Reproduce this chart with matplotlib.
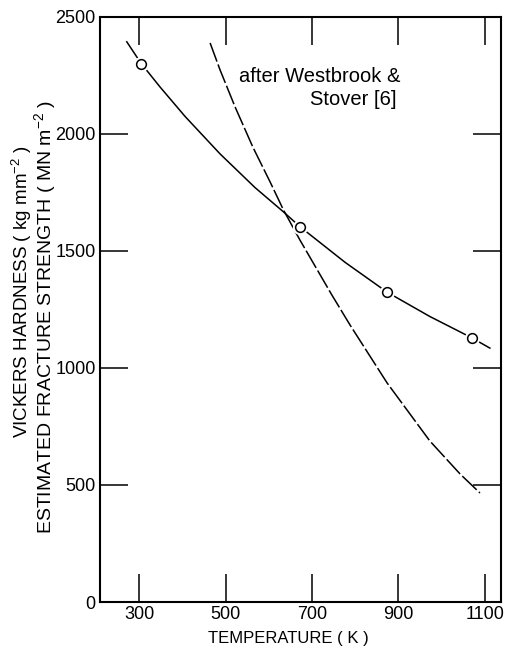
import matplotlib
matplotlib.use('Agg')
import matplotlib.pyplot as plt

plt.rcParams['font.family'] = ['Liberation Sans', 'DejaVu Sans']
plt.rcParams['mathtext.fontset'] = 'custom'
plt.rcParams['mathtext.rm'] = 'Liberation Sans'
plt.rcParams['mathtext.it'] = 'Liberation Sans'

# ---- data ----
temp_ticks = [300, 500, 700, 900, 1100]
hard_ticks = [0, 500, 1000, 1500, 2000, 2500]

measured_T = [303, 673, 874, 1071]
measured_H = [2300, 1604, 1324, 1129]

curve_T = [271, 304, 348, 406, 487, 568, 634, 672, 777, 874, 973, 1070, 1112]
curve_H = [2394, 2302, 2201, 2075, 1915, 1771, 1667, 1604, 1451, 1324, 1220, 1129, 1085]

westbrook_T = [464, 487, 522, 563, 603, 634, 672, 746, 788, 874, 973, 1043, 1089]
westbrook_H = [2389, 2274, 2115, 1944, 1795, 1675, 1547, 1312, 1184, 936, 688, 547, 466]

fig = plt.figure(figsize=(5.11, 6.53), dpi=100)
ax = fig.add_axes([0.1957, 0.0781, 0.9798 - 0.1957, 0.974 - 0.0781])

ax.plot(curve_T, curve_H, color='black', lw=1.1, zorder=2)
ax.plot(westbrook_T, westbrook_H, color='black', lw=1.1,
        linestyle=(0, (13, 2)), zorder=2)
# white halo behind the open circles (gap in the line)
ax.plot(measured_T, measured_H, linestyle='none', marker='o', ms=11,
        markerfacecolor='white', markeredgecolor='none', zorder=3)
ax.plot(measured_T, measured_H, linestyle='none', marker='o', ms=7,
        markerfacecolor='white', markeredgecolor='black', mew=1.1, zorder=4)

ax.set_xlim(209, 1137)
ax.set_ylim(0, 2500)
ax.set_xticks(temp_ticks)
ax.set_yticks(hard_ticks)
ax.tick_params(direction='in', length=20, width=1.1, labelsize=13,
               top=True, right=True, pad=3)
for s in ax.spines.values():
    s.set_linewidth(1.5)

ax.text(904, 2223, 'after Westbrook &', ha='right', va='baseline', fontsize=14.5)
ax.text(896, 2124, 'Stover [6]', ha='right', va='baseline', fontsize=14.5)

fig.text(22 / 511, 1 - 292 / 653, 'VICKERS HARDNESS ( kg mm$^{-2}$ )',
         rotation=90, ha='center', va='center', fontsize=13.5)
fig.text(45 / 511, 1 - 316.5 / 653, 'ESTIMATED FRACTURE STRENGTH ( MN m$^{-2}$ )',
         rotation=90, ha='center', va='center', fontsize=14)
fig.text(288 / 511, 1 - 638.5 / 653, 'TEMPERATURE ( K )',
         ha='center', va='center', fontsize=12)

fig.savefig('out.png', dpi=100)
